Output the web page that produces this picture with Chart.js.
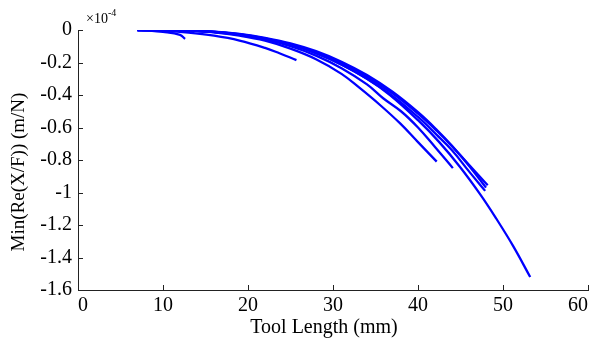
<!DOCTYPE html>
<html>
<head>
<meta charset="utf-8">
<script src="https://cdn.jsdelivr.net/npm/chart.js@4"></script>
<style>
  html, body { margin: 0; padding: 0; background: #fff; }
  #wrap { width: 594px; height: 340px; }
</style>
</head>
<body>
<div id="wrap"><canvas id="c" width="594" height="340"></canvas></div>
<script>
// Tool length (mm) and Min(Re(X/F)) in units of 1e-4 m/N
const curveA_x = [7, 10, 13, 16, 19, 22, 25, 28, 31, 34, 36.7, 40, 42.5, 44.9, 47.3, 49.2, 51.2, 53.2];
const curveA_y = [0, -0.001, -0.003, -0.011, -0.026, -0.052, -0.09, -0.143, -0.213, -0.3, -0.4, -0.555, -0.69, -0.84, -1.01, -1.16, -1.33, -1.52];

const curveB_x = [7, 10, 13, 16, 19, 22, 25, 28, 31, 34, 37, 40, 42.2, 44, 46, 48];
const curveB_y = [0, 0, -0.003, -0.01, -0.024, -0.048, -0.082, -0.13, -0.195, -0.277, -0.38, -0.506, -0.614, -0.713, -0.835, -0.97];

const curveC_x = [7, 10, 13, 16, 19, 22, 25, 28, 31, 34, 37, 40, 42.2, 44, 46, 47.9];
const curveC_y = [0, -0.001, -0.004, -0.012, -0.027, -0.053, -0.09, -0.142, -0.212, -0.3, -0.405, -0.535, -0.645, -0.74, -0.87, -0.99];

const curveH_x = [7, 10, 13, 16, 19, 22, 25, 28, 31, 34, 37, 40, 42.2, 44, 46, 48.2];
const curveH_y = [0, -0.001, -0.004, -0.012, -0.028, -0.053, -0.088, -0.137, -0.203, -0.287, -0.39, -0.515, -0.62, -0.715, -0.83, -0.955];

const curveD_x = [7, 10, 13, 16, 19, 22, 25, 28, 31, 34, 35.9, 38, 40, 42, 44.1];
const curveD_y = [0, -0.001, -0.004, -0.013, -0.03, -0.058, -0.1, -0.158, -0.235, -0.335, -0.42, -0.5, -0.6, -0.72, -0.85];

const curveE_x = [7, 10, 13, 16, 19, 22, 25, 28, 31, 33.1, 35.5, 37.9, 40, 42.2];
const curveE_y = [0, -0.001, -0.005, -0.015, -0.035, -0.066, -0.115, -0.18, -0.27, -0.355, -0.46, -0.575, -0.69, -0.81];

const curveF_x = [7, 10, 13, 16, 19, 22, 23.7, 25.7];
const curveF_y = [0, -0.005, -0.016, -0.035, -0.065, -0.11, -0.143, -0.185];

const curveG_x = [7.5, 10, 12, 12.6];
const curveG_y = [0, -0.012, -0.03, -0.055];

const xTicks = [0, 10, 20, 30, 40, 50, 60];
const xTickLabels = ['0', '10', '20', '30', '40', '50', '60'];
const yTicks = [0, -0.2, -0.4, -0.6, -0.8, -1, -1.2, -1.4, -1.6];
const yTickLabels = ['0', '-0.2', '-0.4', '-0.6', '-0.8', '-1', '-1.2', '-1.4', '-1.6'];

const xTitle = 'Tool Length (mm)';
const yTitle = 'Min(Re(X/F)) (m/N)';
const expBase = '\u00D710';
const expPow = '-4';

const BLUE = '#0000FF';
const FONT = '"Liberation Serif", "Times New Roman", serif';

function pts(xs, ys) { return xs.map((x, i) => ({ x: x, y: ys[i] })); }
function ds(xs, ys) {
  return { data: pts(xs, ys), showLine: true, borderColor: BLUE, backgroundColor: BLUE,
           borderWidth: 2.3, pointRadius: 0, tension: 0.4, fill: false };
}

const customPlugin = {
  id: 'matlabStyle',
  afterDraw(chart) {
    const ctx = chart.ctx;
    const xs = chart.scales.x, ys = chart.scales.y;
    const a = chart.chartArea;
    ctx.save();
    ctx.strokeStyle = '#222';
    ctx.lineWidth = 1;
    ctx.beginPath();
    xTicks.forEach(v => {
      const px = Math.round(xs.getPixelForValue(v)) + 0.5;
      ctx.moveTo(px, a.bottom);
      ctx.lineTo(px, a.bottom - 5);
    });
    yTicks.forEach(v => {
      const py = Math.round(ys.getPixelForValue(v)) + 0.5;
      ctx.moveTo(a.left, py);
      ctx.lineTo(a.left + 5, py);
    });
    ctx.stroke();

    ctx.fillStyle = '#000';
    ctx.font = '20px ' + FONT;
    ctx.textAlign = 'center';
    ctx.textBaseline = 'alphabetic';
    ctx.fillText(xTitle, 324, 333);
    ctx.save();
    ctx.font = '19px ' + FONT;
    ctx.translate(24, 172);
    ctx.rotate(-Math.PI / 2);
    ctx.fillText(yTitle, 0, 0);
    ctx.restore();
    ctx.textAlign = 'left';
    ctx.font = '14px ' + FONT;
    ctx.fillText(expBase, 86, 23);
    const w = ctx.measureText(expBase).width;
    ctx.font = '10px ' + FONT;
    ctx.fillText(expPow, 86 + w, 16);
    ctx.restore();
  }
};

new Chart(document.getElementById('c'), {
  type: 'scatter',
  data: {
    datasets: [
      ds(curveF_x, curveF_y),
      ds(curveG_x, curveG_y),
      ds(curveE_x, curveE_y),
      ds(curveD_x, curveD_y),
      ds(curveC_x, curveC_y),
      ds(curveH_x, curveH_y),
      ds(curveB_x, curveB_y),
      ds(curveA_x, curveA_y)
    ]
  },
  options: {
    responsive: false,
    animation: false,
    events: [],
    layout: { padding: { top: 30, right: 6, left: 0, bottom: 0 } },
    plugins: { legend: { display: false }, tooltip: { enabled: false }, title: { display: false } },
    scales: {
      x: {
        type: 'linear', min: 0, max: 60,
        afterBuildTicks: s => { s.ticks = xTicks.map(v => ({ value: v })); },
        afterFit: s => { s.height = 50; s.paddingLeft = 0; s.paddingRight = 0; },
        ticks: {
          padding: 4, color: '#000', font: { family: FONT, size: 20 }, maxRotation: 0, align: 'inner',
          callback: (v) => { const i = xTicks.indexOf(v); return i >= 0 ? xTickLabels[i] : ''; }
        },
        grid: { display: false, drawTicks: false },
        border: { display: true, color: '#222', width: 1 }
      },
      y: {
        type: 'linear', min: -1.6, max: 0,
        afterBuildTicks: s => { s.ticks = yTicks.map(v => ({ value: v })); },
        afterFit: s => { s.width = 78; s.paddingTop = 0; s.paddingBottom = 0; },
        ticks: {
          padding: 6, color: '#000', font: { family: FONT, size: 20 },
          callback: (v) => { const i = yTicks.findIndex(t => Math.abs(t - v) < 1e-9); return i >= 0 ? yTickLabels[i] : ''; }
        },
        grid: { display: false, drawTicks: false },
        border: { display: true, color: '#222', width: 1 }
      }
    }
  },
  plugins: [customPlugin]
});
</script>
</body>
</html>
